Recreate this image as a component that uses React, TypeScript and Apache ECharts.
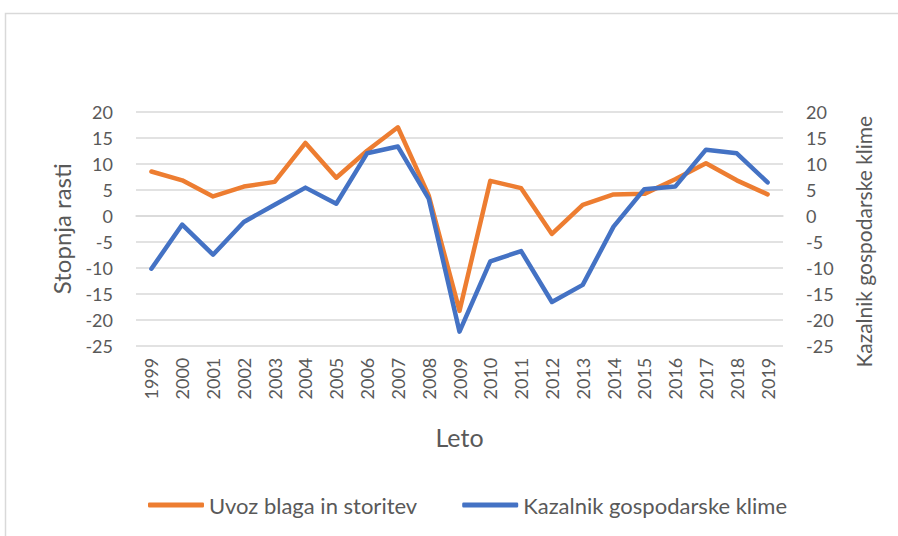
import React, { useEffect, useRef } from "react";
import * as echarts from "echarts";

const years = ["1999","2000","2001","2002","2003","2004","2005","2006","2007","2008","2009","2010","2011","2012","2013","2014","2015","2016","2017","2018","2019"];
const uvoz = [8.5, 6.8, 3.7, 5.6, 6.5, 14.0, 7.3, 12.5, 17.0, 3.9, -18.3, 6.7, 5.3, -3.5, 2.1, 4.1, 4.2, 7.0, 10.1, 6.8, 4.1];
const kazalnik = [-10.2, -1.7, -7.5, -1.2, 2.1, 5.4, 2.3, 12.0, 13.3, 3.3, -22.3, -8.8, -6.8, -16.6, -13.3, -2.1, 5.1, 5.6, 12.7, 12.0, 6.4];
const seriesNames = ["Uvoz blaga in storitev", "Kazalnik gospodarske klime"];
const leftAxisName = "Stopnja rasti";
const rightAxisName = "Kazalnik gospodarske klime";
const xAxisName = "Leto";

const FONT = "Lato";
const TXT = "#595959";

export default function App() {
  const ref = useRef<HTMLDivElement>(null);
  useEffect(() => {
    if (!ref.current) return;
    const chart = echarts.init(ref.current, undefined, { renderer: "svg" });
    const yAxisCommon = {
      type: "value" as const,
      min: -25,
      max: 20,
      interval: 5,
      nameLocation: "middle" as const,
      nameRotate: 90,
      axisLine: { show: false },
      axisTick: { show: false },
      axisLabel: { fontFamily: FONT, fontSize: 18, color: TXT, margin: 23 },
    };
    chart.setOption({
      animation: false,
      textStyle: { fontFamily: FONT },
      graphic: [
        {
          type: "rect",
          shape: { x: 5.5, y: 13.5, width: 1000, height: 1000 },
          style: { fill: "none", stroke: "#d9d9d9", lineWidth: 1.5 },
          silent: true,
        },
      ],
      grid: { left: 136, right: 115, top: 111.7, bottom: 190.3, containLabel: false },
      legend: {
        left: 143,
        top: 489,
        icon: "roundRect",
        itemWidth: 56,
        itemHeight: 5,
        itemGap: 45,
        textStyle: { fontFamily: FONT, fontSize: 22, color: TXT },
        data: seriesNames,
      },
      xAxis: {
        type: "category",
        data: years,
        boundaryGap: true,
        name: xAxisName,
        nameLocation: "middle",
        nameGap: 79,
        nameTextStyle: { fontFamily: FONT, fontSize: 25, color: TXT },
        axisLine: { show: true, lineStyle: { color: "#d9d9d9", width: 1.5 } },
        axisTick: { show: false },
        axisLabel: { rotate: 90, fontFamily: FONT, fontSize: 18, color: TXT, margin: 12, interval: 0 },
      },
      yAxis: [
        {
          ...yAxisCommon,
          position: "left",
          name: leftAxisName,
          nameGap: 63,
          nameTextStyle: { fontFamily: FONT, fontSize: 24, color: TXT },
          splitLine: { show: true, lineStyle: { color: "#d9d9d9", width: 1.5 } },
        },
        {
          ...yAxisCommon,
          position: "right",
          name: rightAxisName,
          nameGap: 70,
          nameTextStyle: { fontFamily: FONT, fontSize: 21, color: TXT, padding: [0, 26, 0, 0] },
          splitLine: { show: false },
        },
      ],
      series: [
        {
          name: seriesNames[0],
          type: "line",
          data: uvoz,
          yAxisIndex: 0,
          symbol: "none",
          itemStyle: { color: "#ED7D31" },
          lineStyle: { color: "#ED7D31", width: 4.5, cap: "round", join: "round" },
        },
        {
          name: seriesNames[1],
          type: "line",
          data: kazalnik,
          yAxisIndex: 1,
          symbol: "none",
          itemStyle: { color: "#4472C4" },
          lineStyle: { color: "#4472C4", width: 4.5, cap: "round", join: "round" },
        },
      ],
    });
    return () => chart.dispose();
  }, []);
  return (
    <div
      ref={ref}
      style={{ position: "absolute", left: 0, top: 0, width: 898, height: 536, background: "#fff" }}
    />
  );
}
